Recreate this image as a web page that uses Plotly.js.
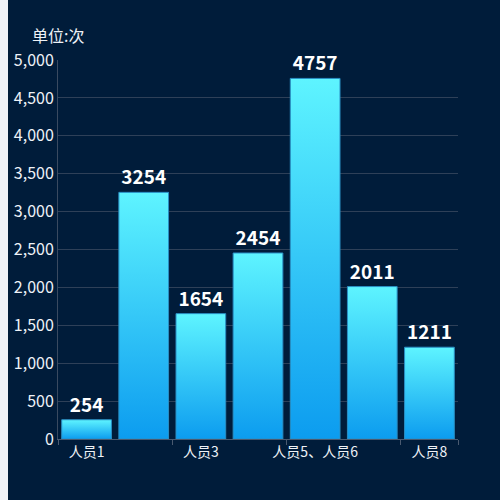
<!DOCTYPE html>
<html>
<head>
<meta charset="utf-8">
<script src="https://cdn.plot.ly/plotly-3.0.1.min.js"></script>
<style>
  body { margin: 0; background: #f0f3f8; }
  #chart { position: absolute; left: 8px; top: 0; width: 492px; height: 500px; background: #001c3a; }
</style>
</head>
<body>
<div id="chart"></div>
<script>
const categories = ['人员1', '人员2', '人员3', '人员4', '人员5、人员6', '人员7', '人员8'];
const counts = [254, 3254, 1654, 2454, 4757, 2011, 1211];
const shownLabels = ['人员1', '人员3', '人员5、人员6', '人员8'];

const font = '"Noto Sans CJK SC", "Noto Sans", sans-serif';

const trace = {
    x: categories,
    y: counts,
    type: 'bar',
    width: 0.87,
    marker: { color: '#2bc4f8', line: { color: '#2a8fc4', width: 1 } },
    text: counts.map(String),
    textposition: 'outside',
    cliponaxis: false,
    textfont: { family: font, size: 19, color: '#ffffff', weight: 'bold' },
    hoverinfo: 'none'
};

const layout = {
    width: 492,
    height: 500,
    margin: { l: 50, r: 42, t: 60, b: 61 },
    paper_bgcolor: '#001c3a',
    plot_bgcolor: '#001c3a',
    showlegend: false,
    font: { family: font, color: '#eef2f7' },
    xaxis: {
        type: 'category',
        tickmode: 'array',
        tickvals: shownLabels,
        ticktext: shownLabels,
        tickson: 'boundaries',
        tickangle: 0,
        ticks: 'outside',
        ticklen: 5,
        tickcolor: '#4a5a70',
        showline: true,
        linecolor: '#4a5a70',
        showgrid: false,
        tickfont: { size: 14, color: '#eef2f7' },
        fixedrange: true
    },
    yaxis: {
        range: [0, 5000],
        dtick: 500,
        tickformat: ',d',
        showline: true,
        linecolor: '#3a4a60',
        gridcolor: '#2e4058',
        zeroline: false,
        ticks: '',
        tickfont: { size: 16, color: '#eef2f7' },
        fixedrange: true
    },
    annotations: [{
        text: '单位:次',
        xref: 'paper', yref: 'paper',
        x: 0, y: 1,
        xanchor: 'center', yanchor: 'middle',
        yshift: 25,
        showarrow: false,
        font: { family: font, size: 16, color: '#eef2f7' }
    }]
};

Plotly.newPlot('chart', [trace], layout, { staticPlot: true }).then(function (gd) {
    // gradient fill for the bars
    const svg = gd.querySelector('.main-svg');
    const ns = 'http://www.w3.org/2000/svg';
    let defs = svg.querySelector('defs');
    if (!defs) { defs = document.createElementNS(ns, 'defs'); svg.insertBefore(defs, svg.firstChild); }
    const grad = document.createElementNS(ns, 'linearGradient');
    grad.setAttribute('id', 'barGrad');
    grad.setAttribute('x1', '0'); grad.setAttribute('y1', '0');
    grad.setAttribute('x2', '0'); grad.setAttribute('y2', '1');
    [['0%', '#5ef4ff'], ['100%', '#0c9cef']].forEach(function (s) {
        const stop = document.createElementNS(ns, 'stop');
        stop.setAttribute('offset', s[0]);
        stop.setAttribute('stop-color', s[1]);
        grad.appendChild(stop);
    });
    defs.appendChild(grad);
    gd.querySelectorAll('.barlayer .point path').forEach(function (p) {
        p.style.fill = 'url(#barGrad)';
        p.style.fillOpacity = 1;
    });
});
</script>
</body>
</html>
